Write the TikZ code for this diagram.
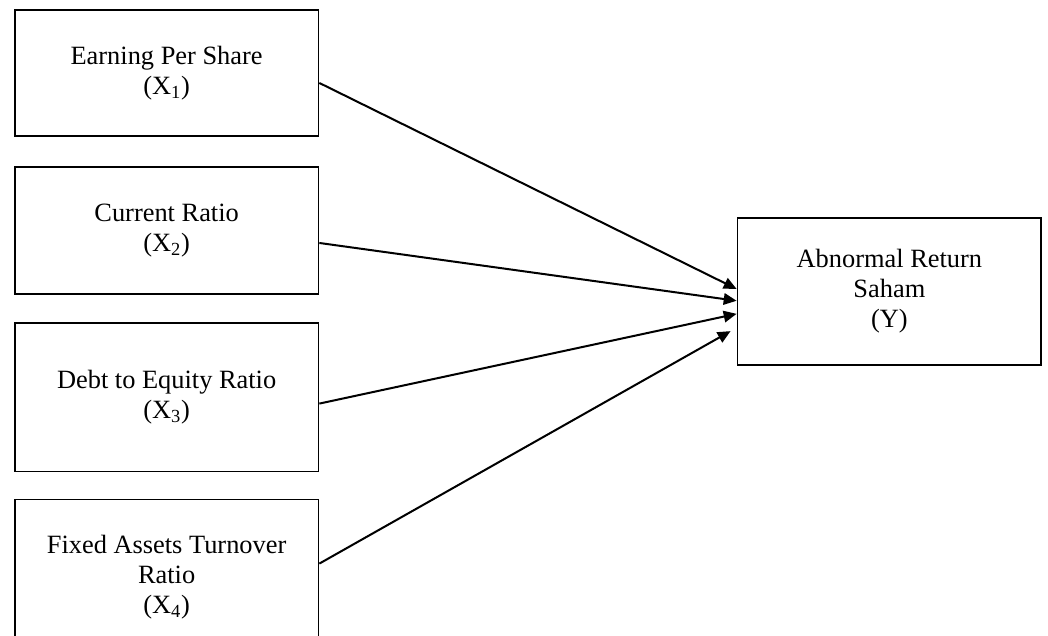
\documentclass[tikz,border=0pt]{standalone}
\usepackage{fontspec}
\setmainfont{Liberation Serif}
\usetikzlibrary{positioning, arrows.meta}

\begin{document}
\begin{tikzpicture}[
    varbox/.style={draw, line width=1.3pt, minimum width=7.44cm, align=center, inner sep=0pt, font=\fontsize{18.4}{21}\selectfont},
    link/.style={-{Triangle[length=9pt, width=8pt]}, line width=1.4pt}
]
    \useasboundingbox (0,0) rectangle (25.68,-15.58);
    \node (EPS) [varbox, minimum height=3.09cm, anchor=north west] at (0.34,-0.22) {Earning Per Share\\(X\textsubscript{1})};
    \node (CR) [varbox, minimum height=3.11cm, below=0.71cm of EPS] {Current Ratio\\(X\textsubscript{2})};
    \node (DER) [varbox, minimum height=3.65cm, below=0.66cm of CR] {Debt to Equity Ratio\\(X\textsubscript{3})};
    \node (FATR) [varbox, minimum height=3.82cm, below=0.64cm of DER] {Fixed Assets Turnover\\Ratio\\(X\textsubscript{4})};
    \node (AR) [varbox, minimum height=3.6cm, anchor=west] at (18.05,-7.14) {Abnormal Return\\Saham\\(Y)};
    \draw [link] ([yshift=-0.245cm]EPS.east) -- ([yshift=0.06cm]AR.west);
    \draw [link] ([yshift=-0.31cm]CR.east) -- ([yshift=-0.23cm]AR.west);
    \draw [link] ([yshift=-0.16cm]DER.east) -- ([yshift=-0.55cm]AR.west);
    \draw [link, shorten >=0.17cm] ([yshift=0.34cm]FATR.east) -- ([yshift=-0.89cm]AR.west);
\end{tikzpicture}
\end{document}
